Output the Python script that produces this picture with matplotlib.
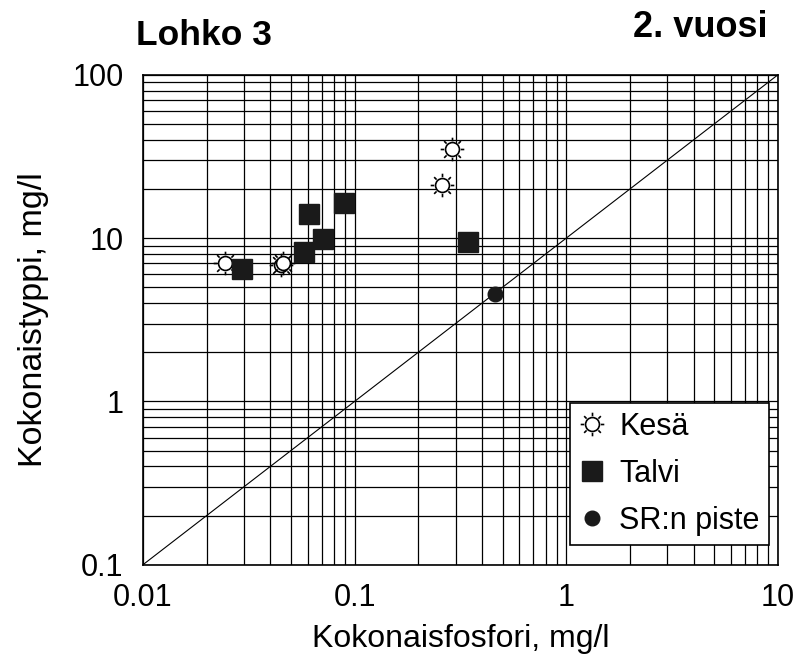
import numpy as np
import matplotlib
matplotlib.use("Agg")
import matplotlib.pyplot as plt
from matplotlib.path import Path

## Values (mg/l)
kesa_p = [0.0245, 0.0447, 0.0460, 0.260, 0.290]
kesa_n = [7.0, 6.8, 7.0, 21.0, 35.0]

talvi_p = [0.0294, 0.0575, 0.0608, 0.0711, 0.0894, 0.344]
talvi_n = [6.5, 8.2, 14.1, 9.9, 16.4, 9.5]

sr_p = [0.46]
sr_n = [4.55]

x_ticks = [0.01, 0.1, 1, 10]
x_labels = ["0.01", "0.1", "1", "10"]
y_ticks = [0.1, 1, 10, 100]
y_labels = ["0.1", "1", "10", "100"]

plt.rcParams['font.family'] = ['Liberation Sans', 'DejaVu Sans']

## sun marker: open circle with eight short rays
def sun_marker():
    circle = Path.unit_circle()
    verts = []
    codes = []
    for ang in np.arange(8) * np.pi / 4:
        verts += [(1.2 * np.cos(ang), 1.2 * np.sin(ang)),
                  (1.7 * np.cos(ang), 1.7 * np.sin(ang))]
        codes += [Path.MOVETO, Path.LINETO]
    rays = Path(verts, codes)
    return Path.make_compound_path(circle, rays)

sun = sun_marker()

fig = plt.figure(figsize=(8.07, 6.56), dpi=100)
ax = fig.add_axes([0.177, 0.139, 0.787, 0.747])

ax.set_xscale("log")
ax.set_yscale("log")
ax.set_xlim(0.01, 10)
ax.set_ylim(0.1, 100)

## grid on every minor and major tick
ax.grid(True, which="both", color="black", linewidth=0.9)
ax.set_axisbelow(True)

## N = 10 * P line
ax.plot([0.01, 10], [0.1, 100], color="black", linewidth=0.8)

ax.plot(kesa_p, kesa_n, linestyle="none", marker=sun, markersize=17,
        markerfacecolor="white", markeredgecolor="black", markeredgewidth=1.2,
        label="Kesä")
ax.plot(talvi_p, talvi_n, linestyle="none", marker="s", markersize=15,
        color="#1a1a1a", label="Talvi")
ax.plot(sr_p, sr_n, linestyle="none", marker="o", markersize=10.5,
        color="#1a1a1a", label="SR:n piste")

ax.set_xticks(x_ticks)
ax.set_xticklabels(x_labels)
ax.set_yticks(y_ticks)
ax.set_yticklabels(y_labels)
ax.tick_params(which="both", length=0, labelsize=22)
ax.tick_params(axis="x", pad=13)
ax.tick_params(axis="y", pad=14)
ax.xaxis.set_minor_formatter(plt.NullFormatter())
ax.yaxis.set_minor_formatter(plt.NullFormatter())

for sp in ax.spines.values():
    sp.set_linewidth(1.2)

ax.set_xlabel("Kokonaisfosfori, mg/l", fontsize=23, labelpad=8)
ax.set_ylabel("Kokonaistyppi, mg/l", fontsize=24.5, labelpad=17)

leg = ax.legend(loc="lower right", bbox_to_anchor=(1.0, 0.022), fontsize=22,
                frameon=True, fancybox=False, edgecolor="black", framealpha=1,
                markerscale=1.0, handlelength=0.8, handletextpad=0.5,
                labelspacing=0.55, borderpad=0.3, borderaxespad=0.3)
leg.get_frame().set_linewidth(1.2)

fig.text(0.168, 0.931, "Lohko 3", fontsize=25.5, fontweight="bold", va="baseline")
fig.text(0.951, 0.944, "2. vuosi", fontsize=26, fontweight="bold", ha="right",
         va="baseline")

fig.savefig("out.png", dpi=100, facecolor="white")
